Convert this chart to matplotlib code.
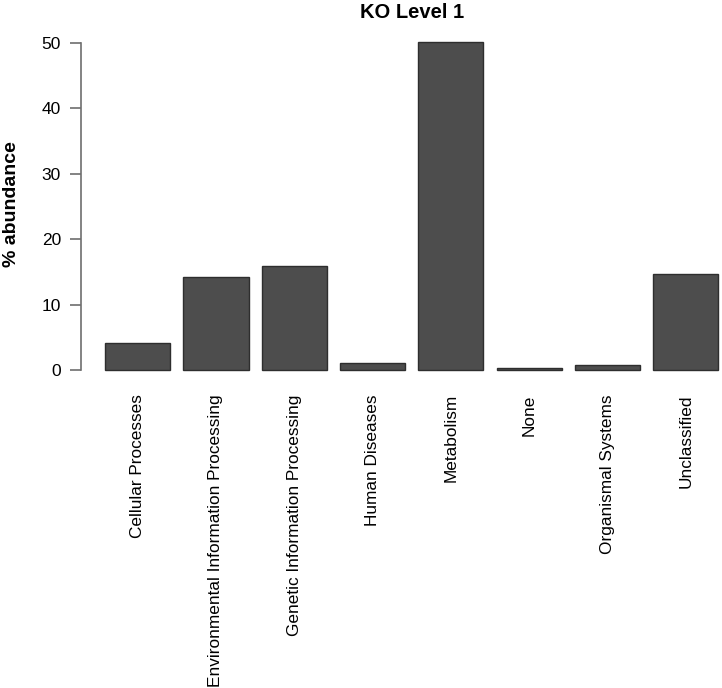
import numpy as np
import matplotlib
matplotlib.use("Agg")
import matplotlib.pyplot as plt

categories = ["Cellular Processes", "Environmental Information Processing",
              "Genetic Information Processing", "Human Diseases", "Metabolism",
              "None", "Organismal Systems", "Unclassified"]
abundance = [4.2, 14.2, 15.9, 1.1, 50.1, 0.3, 0.8, 14.7]
yticks = [0, 10, 20, 30, 40, 50]

plt.rcParams['font.family'] = ['Liberation Sans', 'DejaVu Sans']

W, H = 722, 688
fig = plt.figure(figsize=(W / 100, H / 100), dpi=100)

# plot region in pixels (R barplot layout: width 1, space 0.2)
left_px, right_px = 80.5, 722
top_px, bot_px = 29.9, 383.1
ax = fig.add_axes([left_px / W, 1 - bot_px / H,
                   (right_px - left_px) / W, (bot_px - top_px) / H])

x = 0.7 + 1.2 * np.arange(len(categories))
ax.bar(x, abundance, width=1.0, color='#4d4d4d', edgecolor='#2e2e2e', linewidth=1.0)

ax.set_xlim(-0.176, 0.2 + (right_px - 105) / 65.25)
ax.set_ylim(-2, 52)

for s in ['top', 'right', 'bottom']:
    ax.spines[s].set_visible(False)
ax.spines['left'].set_bounds(0, 50)
ax.spines['left'].set_color('#6e6e6e')
ax.spines['left'].set_linewidth(1.2)

ax.set_yticks(yticks)
ax.set_yticklabels([str(t) for t in yticks], fontsize=12.5)
ax.tick_params(axis='y', length=8, width=1.2, color='#6e6e6e', pad=6)

ax.set_xticks(x)
ax.set_xticklabels(categories, rotation=90, fontsize=12.4, va='top')
ax.tick_params(axis='x', length=0, pad=8)

fig.text(411.7 / W, 1 - 13 / H, "KO Level 1", ha='center', va='center',
         fontsize=14.5, fontweight='bold')
fig.text(12 / W, 1 - 204 / H, "% abundance", ha='center', va='center',
         rotation=90, fontsize=14, fontweight='bold')

fig.savefig("out.png", dpi=100)
